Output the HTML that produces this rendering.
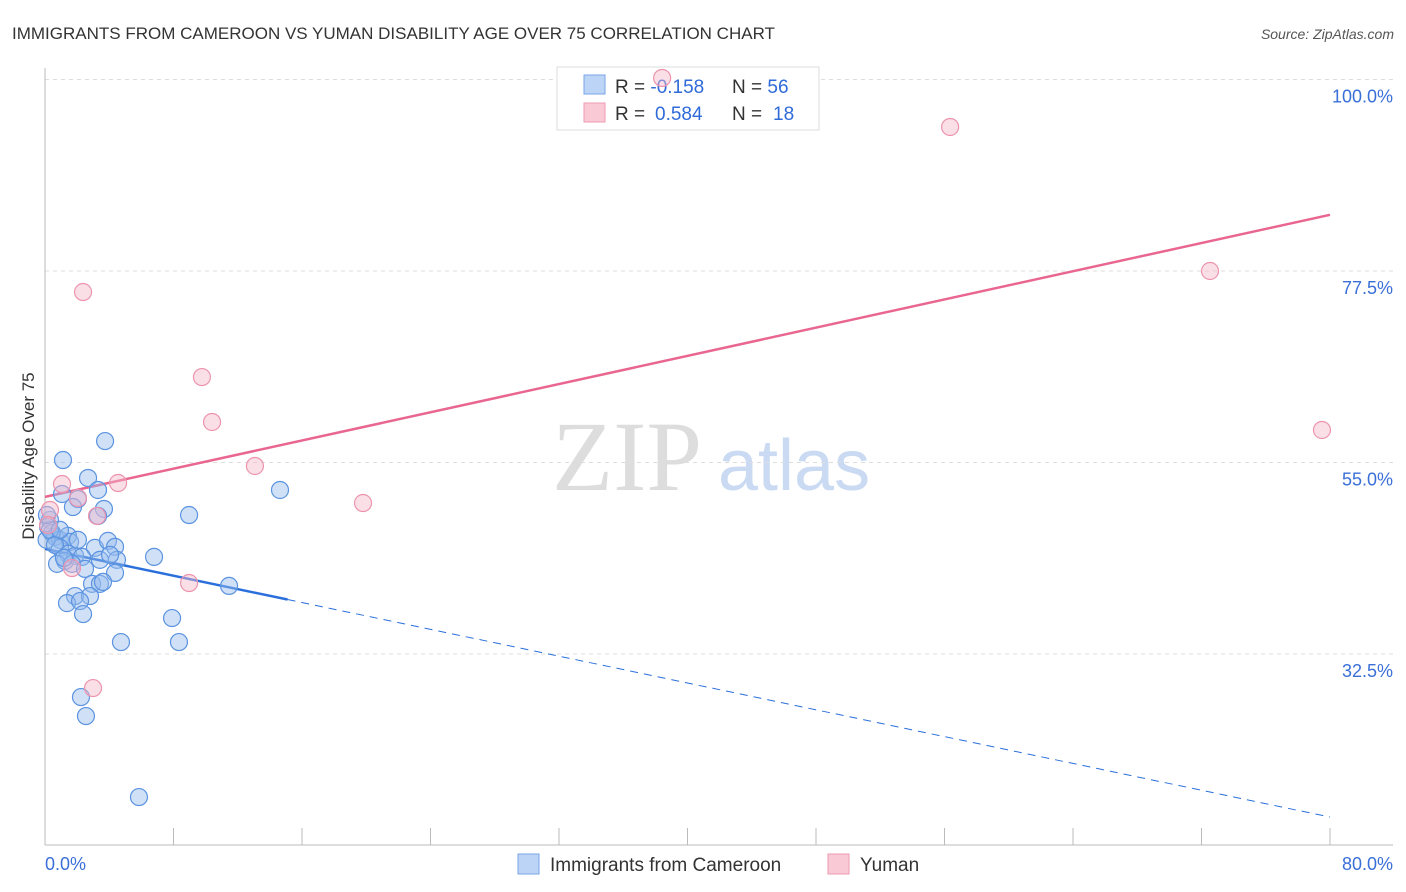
<!DOCTYPE html>
<html><head><meta charset="utf-8"><style>
body{margin:0;background:#fff;font-family:"Liberation Sans",sans-serif;}
svg{display:block}
</style></head><body>
<svg id="chart" width="1406" height="892">
<text x="12" y="39" font-size="17" fill="#333">IMMIGRANTS FROM CAMEROON VS YUMAN DISABILITY AGE OVER 75 CORRELATION CHART</text>
<text x="1394" y="39" font-size="14" fill="#555" font-style="italic" text-anchor="end">Source: ZipAtlas.com</text>
<text x="552" y="490" font-size="100" fill="#ddd" font-family="Liberation Serif,serif">ZIP</text>
<text x="718" y="490" font-size="72" fill="#c9daf2">atlas</text>
<g id="grid"></g><g id="axes"></g><g id="lines"></g>
<text transform="translate(34,456) rotate(-90)" font-size="17" fill="#333" text-anchor="middle">Disability Age Over 75</text>
<text x="45" y="870" font-size="18" fill="#3a6fd8">0.0%</text>
<text x="1393" y="870" font-size="18" fill="#3a6fd8" text-anchor="end">80.0%</text>
<g>
<rect x="557" y="67" width="262" height="63" fill="#fff" stroke="#ddd"/>
<rect x="584" y="75" width="21" height="19" fill="#bcd4f5" stroke="#7aa5e6"/>
<rect x="584" y="103" width="21" height="19" fill="#f9c9d6" stroke="#ee9ab2"/>
<text x="615" y="93" font-size="19" fill="#333">R = <tspan fill="#2f6bd8">-0.158</tspan><tspan x="732">N = </tspan><tspan fill="#2f6bd8">56</tspan></text>
<text x="615" y="120" font-size="19" fill="#333">R = <tspan x="655" fill="#2f6bd8">0.584</tspan><tspan x="732">N = </tspan><tspan x="773" fill="#2f6bd8">18</tspan></text>
</g>
<g id="pts"></g>
<g>
<rect x="518" y="854" width="21" height="20" fill="#bcd4f5" stroke="#7aa5e6"/>
<text x="550" y="871" font-size="19" fill="#333">Immigrants from Cameroon</text>
<rect x="828" y="854" width="21" height="20" fill="#f9c9d6" stroke="#ee9ab2"/>
<text x="860" y="871" font-size="19" fill="#333">Yuman</text>
</g>
</svg>
<script>
const yTicks=[100,77.5,55,32.5];
const yTickLabels=["100.0%","77.5%","55.0%","32.5%"];
const blueX=[1.12,3.74,2.68,3.30,1.06,2.05,1.74,3.67,3.30,8.97,14.63,0.31,0.19,0.44,0.62,0.93,1.43,1.56,0.93,3.11,3.92,4.36,1.43,1.87,2.30,1.25,0.75,1.68,2.49,4.48,6.79,4.36,2.93,3.42,3.61,11.46,1.87,2.80,1.37,2.18,2.37,7.91,4.73,8.34,2.24,2.55,5.85,0.1,0.31,0.62,3.42,4.05,0.12,0.93,1.18,2.05];
const blueY=[55.29,57.52,53.18,51.77,51.30,50.71,49.77,49.54,48.72,48.83,51.77,48.25,47.43,46.73,46.26,45.91,46.38,45.67,44.97,44.97,45.79,45.09,44.27,44.03,43.91,43.44,43.09,43.09,42.50,43.56,43.91,42.03,40.74,40.74,40.97,40.50,39.31,39.31,38.48,38.72,37.19,36.72,33.90,33.90,27.44,25.21,15.69,45.91,47.08,45.32,43.56,44.15,48.83,47.08,43.79,45.91];
const pinkX=[2.37,9.77,10.40,13.07,4.55,1.06,2.05,3.24,19.80,8.97,2.99,1.68,56.35,72.53,79.50,38.42,0.31,0.19];
const pinkY=[75.03,65.04,59.76,54.59,52.59,52.47,50.83,48.72,50.24,40.84,28.50,42.60,94.42,77.50,58.82,100.18,49.42,47.66];
const blueTrend=[44.85,13.34];
const pinkTrend=[50.96,84.1];
const blueSolidEnd=15.1;
const NS="http://www.w3.org/2000/svg";
const sx=v=>45+v/80*1285;
const sy=v=>79.5+(100-v)/22.5*191.5;
function mk(tag,attrs,parent){const e=document.createElementNS(NS,tag);for(const k in attrs)e.setAttribute(k,attrs[k]);document.getElementById(parent).appendChild(e);return e;}
yTicks.forEach((t,i)=>{
 const g=mk('line',{x1:45,x2:1393,y1:sy(t),y2:sy(t),stroke:'#ddd','stroke-dasharray':'4,4'},'grid');
 
 
 const l=mk('text',{x:1393,y:sy(t)+23,'font-size':18,fill:'#3a6fd8','text-anchor':'end'},'grid');
 l.textContent=yTickLabels[i];
 
 
});
const ax=mk('line',{x1:45,x2:1393,y1:845,y2:845,stroke:'#bbb'},'axes');


const ay=mk('line',{x1:45,x2:45,y1:68,y2:845,stroke:'#bbb'},'axes');


for(let i=1;i<=10;i++){const t=mk('line',{x1:sx(i*8),x2:sx(i*8),y1:828,y2:845,stroke:'#bbb'},'axes');
 
 }
const ty=(tr,x)=>tr[0]+(tr[1]-tr[0])*x/80;
const bl=mk('line',{x1:sx(0),y1:sy(ty(blueTrend,0)),x2:sx(blueSolidEnd),y2:sy(ty(blueTrend,blueSolidEnd)),stroke:'#2a6fdb','stroke-width':2.5},'lines');


const bd=mk('line',{x1:sx(blueSolidEnd),y1:sy(ty(blueTrend,blueSolidEnd)),x2:sx(80),y2:sy(ty(blueTrend,80)),stroke:'#2a6fdb','stroke-width':1,'stroke-dasharray':'8,6'},'lines');


const pl=mk('line',{x1:sx(0),y1:sy(ty(pinkTrend,0)),x2:sx(80),y2:sy(ty(pinkTrend,80)),stroke:'#e8668f','stroke-width':2.5},'lines');


blueX.forEach((x,i)=>{const c=mk('circle',{cx:sx(x),cy:sy(blueY[i]),r:8.5,fill:'rgba(150,188,238,0.45)',stroke:'#5b93e0','stroke-width':1.2},'pts');
 
 });
pinkX.forEach((x,i)=>{const c=mk('circle',{cx:sx(x),cy:sy(pinkY[i]),r:8.5,fill:'rgba(246,184,202,0.45)',stroke:'#ec94ae','stroke-width':1.2},'pts');
 
 });
</script>
</body></html>
